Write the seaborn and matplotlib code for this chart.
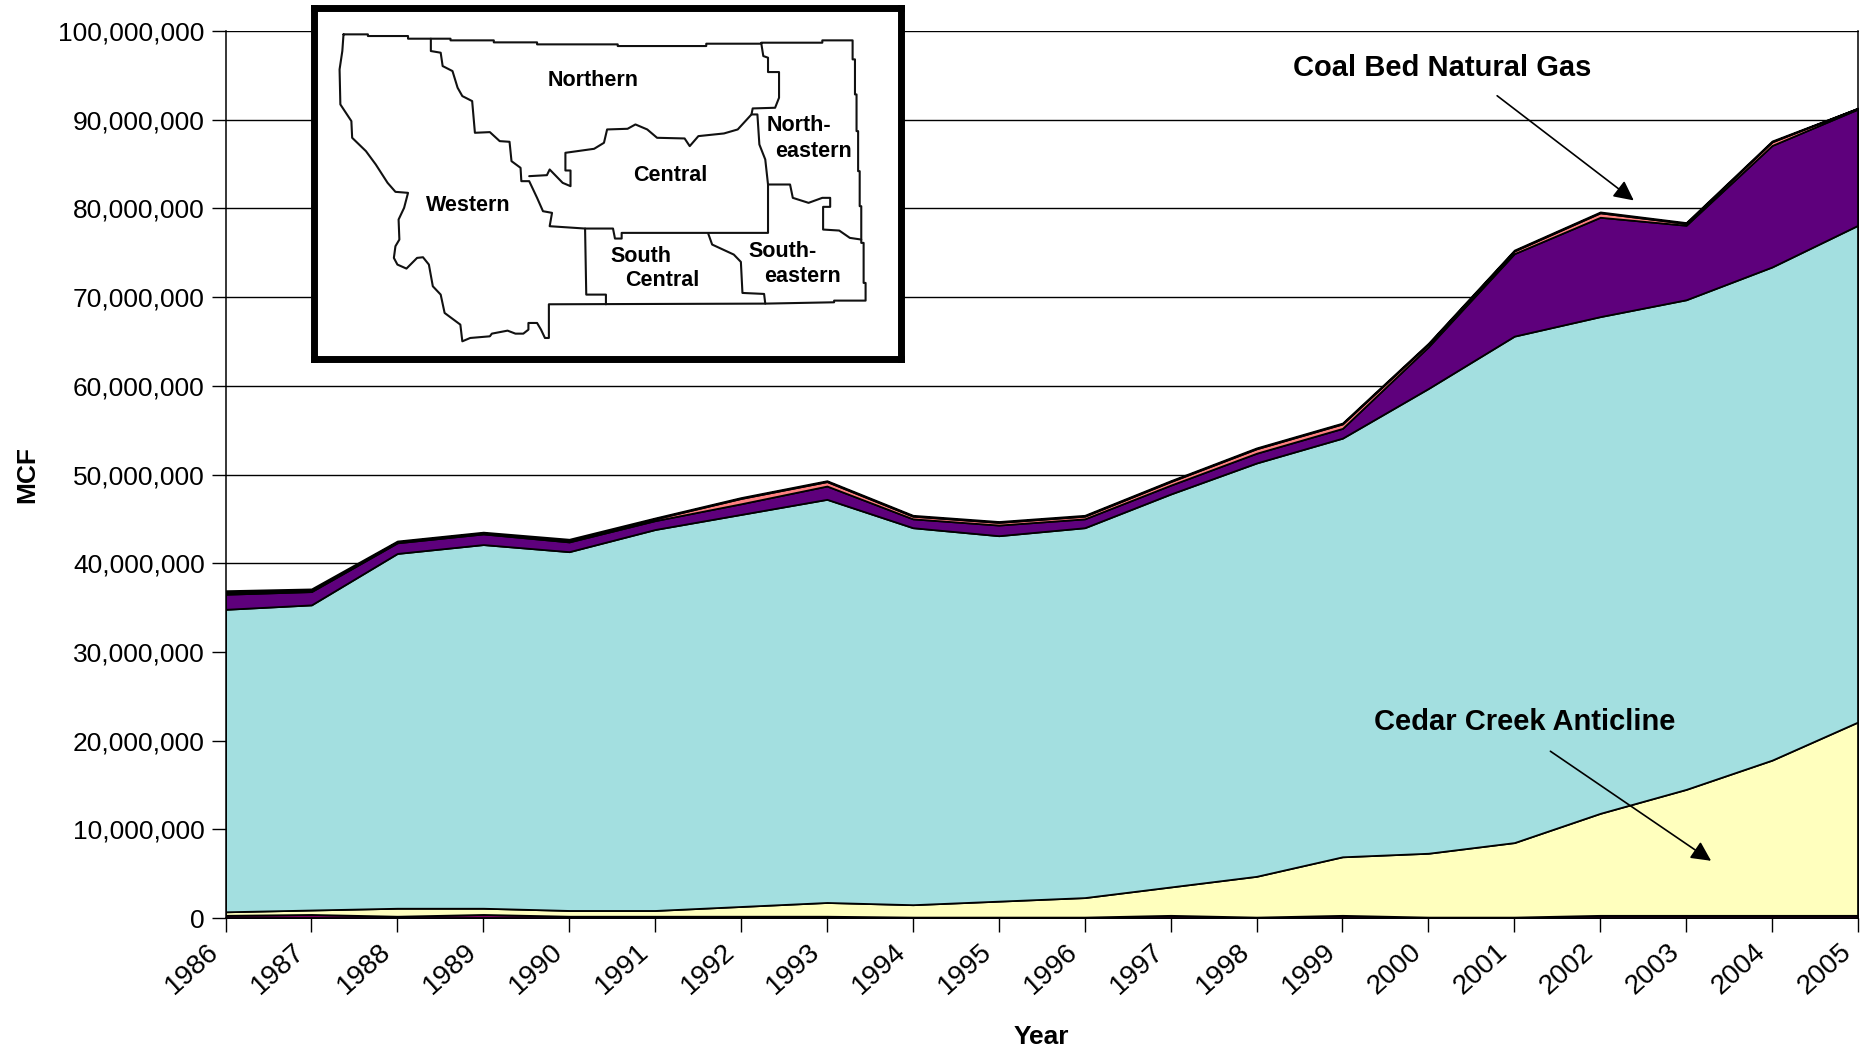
import pandas as pd
import matplotlib.pyplot as plt
from matplotlib.ticker import FuncFormatter
from matplotlib.transforms import ScaledTranslation
import seaborn as sns

# valores en millones de MCF, capa por capa de abajo hacia arriba
years = list(range(1986, 2006))
base_layer = [.3, .4, .2, .4, .2, .2, .2, .2, .1, .1, .1, .3, .1, .3, .1, .1, .3, .3, .3, .3]
cedar_creek = [.4, .5, .9, .7, .65, .65, 1.1, 1.55, 1.4, 1.8, 2.2, 3.2, 4.6, 6.6, 7.2, 8.4, 11.5, 14.2, 17.5, 21.8]
other_gas = [34.1, 34.4, 40.0, 41.0, 40.45, 42.95, 44.2, 45.45, 42.5, 41.2, 41.7, 44.3, 46.6, 47.2, 52.4, 57.1, 56.0, 55.2, 55.6, 56.0]
coal_bed = [1.7, 1.5, 1.2, 1.2, 1.1, 1.0, 1.2, 1.5, 1.0, 1.2, 1.0, 1.0, 1.1, 1.1, 4.7, 9.3, 11.2, 8.4, 13.7, 13.1]
salmon_layer = [.1, .1, .1, .1, .1, .2, .6, .5, .3, .3, .3, .4, .5, .5, .3, .3, .5, .2, .4, .1]
cap_layer = [.3, .2, .1, .1, .2, .1, .1, .1, .1, .1, .1, .1, .1, .1, .1, .1, .1, .1, .1, 0]

layers = {
    'cap': cap_layer,
    'salmon': salmon_layer,
    'coal': coal_bed,
    'other': other_gas,
    'cedar': cedar_creek,
    'base': base_layer,
}
colors = {'cap': '#000000', 'salmon': '#FF8080', 'coal': '#5E007C', 'other': '#A3DFE0', 'cedar': '#FFFFBE', 'base': '#800060'}

y_ticks = list(range(0, 100000001, 10000000))

# contornos del mapa de Montana (coordenadas propias del recuadro)
state_outline = [(108, 100), (170, 100), (170, 105), (272, 105), (272, 113), (380, 113), (380, 118), (490, 118),
                 (490, 124), (600, 124), (600, 130), (805, 130), (805, 135), (1030, 135), (1030, 128), (1170, 128),
                 (1170, 125), (1325, 125), (1325, 118), (1402, 118), (1402, 175), (1408, 175), (1408, 280), (1412, 280),
                 (1412, 390), (1416, 390), (1416, 510), (1420, 510), (1420, 615), (1424, 615), (1424, 725), (1430, 725),
                 (1430, 845), (1435, 845), (1435, 898), (1355, 898), (1355, 903), (1180, 907), (630, 909), (630, 1010),
                 (620, 1010), (610, 985), (600, 965), (578, 965), (578, 985), (565, 997), (545, 997), (525, 988),
                 (485, 997), (480, 1005), (430, 1010), (410, 1020), (405, 970), (365, 935), (355, 880), (335, 855),
                 (325, 790), (310, 768), (295, 770), (268, 802), (245, 790), (236, 770), (240, 735), (250, 715),
                 (248, 655), (262, 620), (272, 575), (240, 572), (220, 545), (190, 490), (165, 450), (130, 410),
                 (128, 360), (100, 310), (98, 205), (105, 150), (108, 100)]
west_border = [(330, 113), (330, 150), (355, 155), (360, 195), (385, 210), (398, 260), (410, 285), (435, 300),
               (442, 395), (480, 393), (505, 420), (530, 422), (535, 480), (558, 500), (560, 540), (580, 540),
               (600, 590), (615, 630), (638, 635), (632, 675), (722, 682)]
central_border = [(580, 525), (625, 522), (632, 505), (665, 545), (685, 555), (685, 508), (672, 508), (672, 455),
                  (745, 443), (770, 425), (778, 385), (830, 383), (850, 370), (880, 385), (905, 410), (975, 412),
                  (988, 435), (1010, 405), (1075, 397), (1110, 385), (1145, 340), (1160, 340), (1165, 430), (1180, 475),
                  (1187, 550), (1187, 695), (815, 695), (815, 712), (798, 712), (793, 682), (722, 682), (725, 880),
                  (775, 880), (775, 909)]
north_border = [(1170, 128), (1175, 165), (1187, 170), (1187, 213), (1215, 213), (1215, 290), (1205, 320), (1148, 322),
                (1145, 340)]
east_border = [(1187, 550), (1243, 550), (1250, 590), (1290, 605), (1325, 590), (1345, 590), (1345, 617), (1327, 617),
               (1327, 685), (1368, 688), (1395, 710), (1424, 715)]
south_border = [(1035, 697), (1045, 730), (1100, 760), (1118, 782), (1122, 875), (1177, 878), (1180, 907)]
map_lines = [state_outline, west_border, central_border, north_border, east_border, south_border]

map_labels = ['Northern', 'Western', 'Central', 'South', 'Central', 'North-', 'eastern', 'South-', 'eastern']
label_x = [743, 425, 938, 865, 918, 1265, 1302, 1225, 1275]
label_y = [238, 612, 524, 765, 838, 373, 450, 750, 825]

sns.set_theme(style='ticks')
plt.rcParams['font.family'] = ['Liberation Sans', 'DejaVu Sans']
plt.rcParams['axes.edgecolor'] = 'black'
plt.rcParams['xtick.color'] = 'black'
plt.rcParams['ytick.color'] = 'black'
plt.rcParams['text.color'] = 'black'
plt.rcParams['axes.labelcolor'] = 'black'

# tabla larga para histplot
rows = []
for name, vals in layers.items():
    for yr, v in zip(years, vals):
        rows.append({'year': yr, 'layer': name, 'mcf': v * 1e6})
df = pd.DataFrame(rows)

fig = plt.figure(figsize=(18.7, 10.51), dpi=100)
ax = fig.add_axes([225.5 / 1870, 1 - 918 / 1051, 1632.5 / 1870, 887 / 1051])

sns.histplot(data=df, x='year', weights='mcf', hue='layer', hue_order=list(layers.keys()), multiple='stack',
             element='poly', discrete=True, palette=colors, alpha=1, edgecolor='black', linewidth=1.3,
             legend=False, ax=ax)

ax.set_xlim(1986, 2005)
ax.set_ylim(0, 100000000)
ax.set_xticks(years)
ax.set_yticks(y_ticks)
ax.yaxis.set_major_formatter(FuncFormatter(lambda v, p: f'{v:,.0f}'))
ax.grid(axis='y', color='black', linewidth=1)
ax.set_axisbelow(True)
ax.tick_params(axis='y', labelsize=19, length=10, width=1, pad=5)
ax.tick_params(axis='x', labelsize=20, length=10, width=1, pad=5)
plt.setp(ax.get_xticklabels(), rotation=42, ha='right', rotation_mode='anchor')
shift = ScaledTranslation(-19 / 100, 0, fig.dpi_scale_trans)
for lab in ax.get_xticklabels():
    lab.set_transform(lab.get_transform() + shift)

for side in ['top', 'right', 'left', 'bottom']:
    ax.spines[side].set_visible(True)
    ax.spines[side].set_linewidth(1.1)
ax.spines['top'].set_linewidth(0.7)

ax.set_xlabel('Year', fontsize=19, fontweight='bold')
ax.set_ylabel('MCF', fontsize=19, fontweight='bold')
ax.xaxis.set_label_coords(0.5, -0.121)
ax.yaxis.set_label_coords(-0.114, 0.5)

ax.annotate('Coal Bed Natural Gas', xy=(2002.39, 80.9e6), xytext=(2000.16, 95.85e6), fontsize=21, fontweight='bold',
            ha='center', va='center')
ax.annotate('', xy=(2002.39, 80.9e6), xytext=(2000.8, 92.7e6),
            arrowprops=dict(arrowstyle='-|>', color='black', lw=1.2, mutation_scale=30, shrinkA=0, shrinkB=0))
ax.annotate('Cedar Creek Anticline', xy=(2003.29, 6.45e6), xytext=(2001.12, 22.15e6), fontsize=21, fontweight='bold',
            ha='center', va='center')
ax.annotate('', xy=(2003.29, 6.45e6), xytext=(2001.42, 18.8e6),
            arrowprops=dict(arrowstyle='-|>', color='black', lw=1.2, mutation_scale=30, shrinkA=0, shrinkB=0))

# recuadro con el mapa
inset = fig.add_axes([314 / 1870, 1 - 359 / 1051, 587 / 1870, 351 / 1051], zorder=5)
inset.set_facecolor('white')
inset.set_xlim(33, 1525)
inset.set_ylim(1073, 21)
inset.set_xticks([])
inset.set_yticks([])
for side in inset.spines.values():
    side.set_linewidth(5)
    side.set_color('black')
for line in map_lines:
    inset.plot([p[0] for p in line], [p[1] for p in line], color='#111111', linewidth=1.5)
for txt, lx, ly in zip(map_labels, label_x, label_y):
    inset.text(lx, ly, txt, ha='center', va='center', fontsize=15.5, fontweight='bold', family='Liberation Sans')

fig.savefig('out.png', dpi=100)
